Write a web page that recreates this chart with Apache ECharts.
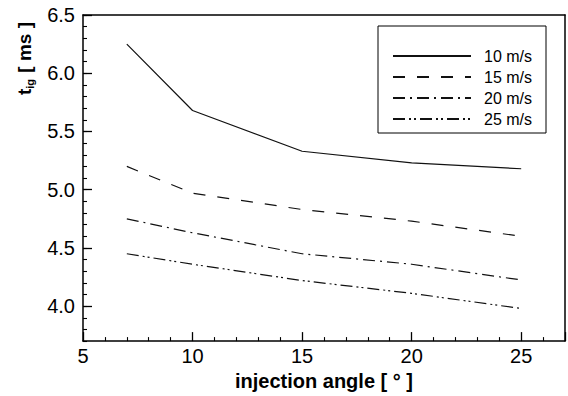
<!DOCTYPE html>
<html>
<head>
<meta charset="utf-8">
<script src="https://cdn.jsdelivr.net/npm/echarts@6/dist/echarts.min.js"></script>
<style>
html,body{margin:0;padding:0;background:#fff;}
#chart{width:568px;height:396px;}
</style>
</head>
<body>
<div id="chart"></div>
<script>
var angles = [7, 10, 15, 20, 25];
var seriesNames = ['10 m/s', '15 m/s', '20 m/s', '25 m/s'];
var v10 = [6.25, 5.68, 5.33, 5.23, 5.18];
var v15 = [5.20, 4.97, 4.83, 4.73, 4.60];
var v20 = [4.75, 4.63, 4.45, 4.36, 4.225];
var v25 = [4.45, 4.36, 4.22, 4.11, 3.98];
var yTickLabels = [4.0, 4.5, 5.0, 5.5, 6.0, 6.5];
var xTickLabels = [5, 10, 15, 20, 25];
var dashTypes = ['solid', [12, 12], [12, 5, 2, 5], [12, 4, 2, 3, 2, 4]];

var allValues = [v10, v15, v20, v25];
var FONT = '"Liberation Sans", Arial, sans-serif';

var chart = echarts.init(document.getElementById('chart'), null, {renderer: 'svg'});

var series = seriesNames.map(function (name, i) {
  return {
    name: name,
    type: 'line',
    xAxisIndex: 0,
    yAxisIndex: 0,
    symbol: 'none',
    showSymbol: false,
    data: angles.map(function (a, j) { return [a, allValues[i][j]]; }),
    lineStyle: {color: '#111', width: 1.2, type: dashTypes[i]},
    itemStyle: {color: '#111'},
    animation: false
  };
});

function borderLine() { return {show: true, lineStyle: {color: '#000', width: 1.5, type: 'solid'}}; }
function none() { return {show: false}; }

chart.setOption({
  animation: false,
  grid: {left: 83, top: 15, right: 2, bottom: 51, show: false},
  legend: {
    orient: 'vertical',
    left: 378,
    top: 26,
    padding: [22, 14, 6, 14],
    itemGap: 5,
    itemWidth: 78,
    itemHeight: 14,
    borderColor: '#000',
    borderWidth: 1,
    data: seriesNames,
    itemStyle: {opacity: 0},
    textStyle: {fontFamily: FONT, fontSize: 16, color: '#000', padding: [0, 0, 0, 8]}
  },
  xAxis: [{
    type: 'value',
    z: 5,
    min: 5,
    max: 27,
    interval: 5,
    name: 'injection angle [ \u00b0 ]',
    nameLocation: 'middle',
    nameGap: 24,
    nameTextStyle: {fontFamily: FONT, fontSize: 20, fontWeight: 'bold', color: '#000'},
    axisLine: borderLine(),
    axisTick: {show: true, inside: true, length: 9, lineStyle: {color: '#000', width: 1.3, type: 'solid'}},
    minorTick: {show: true, splitNumber: 5, length: 4, lineStyle: {color: '#000', width: 1.1, type: 'solid'}},
    splitLine: none(),
    axisLabel: {fontFamily: FONT, fontSize: 20, color: '#000', margin: 5,
      formatter: function (v) { return xTickLabels.indexOf(v) >= 0 ? String(v) : ''; }}
  }, {
    type: 'value',
    z: 5,
    position: 'top',
    min: 5,
    max: 27,
    axisLine: borderLine(),
    axisTick: none(),
    axisLabel: none(),
    splitLine: none()
  }],
  yAxis: [{
    type: 'value',
    z: 5,
    min: 3.7,
    max: 6.5,
    axisLine: borderLine(),
    axisTick: {show: true, inside: true, length: 9, customValues: yTickLabels, lineStyle: {color: '#000', width: 1.3, type: 'solid'}},
    splitLine: none(),
    axisLabel: {fontFamily: FONT, fontSize: 20, color: '#000', margin: 8, customValues: yTickLabels,
      formatter: function (v) { return v.toFixed(1); }}
  }, {
    type: 'value',
    z: 5,
    position: 'left',
    min: 3.7,
    max: 6.5,
    interval: 0.1,
    axisLine: none(),
    axisTick: {show: true, inside: true, length: 4, lineStyle: {color: '#000', width: 1.1, type: 'solid'}},
    axisLabel: none(),
    splitLine: none()
  }, {
    type: 'value',
    z: 5,
    position: 'right',
    min: 3.7,
    max: 6.5,
    axisLine: borderLine(),
    axisTick: none(),
    axisLabel: none(),
    splitLine: none()
  }],
  graphic: [{
    type: 'text',
    left: 15,
    top: 22,
    rotation: Math.PI / 2,
    style: {
      text: 't{sub|ig} [ ms ]',
      fontFamily: FONT,
      fontSize: 19,
      fontWeight: 'bold',
      fill: '#000',
      rich: {sub: {fontFamily: FONT, fontSize: 11, fontWeight: 'bold', fill: '#000', padding: [10, 1, 0, 0]}}
    }
  }],
  series: series
});
</script>
</body>
</html>
